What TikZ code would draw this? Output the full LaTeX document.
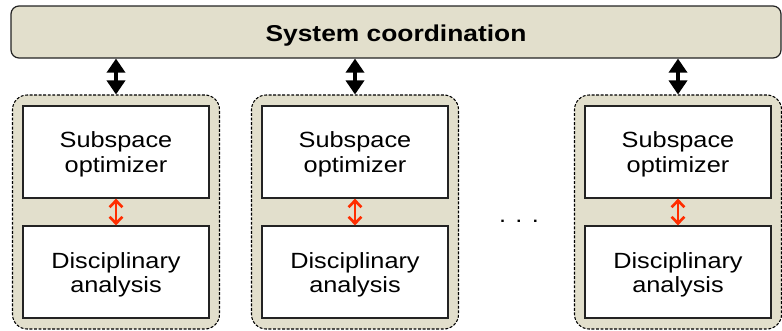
\documentclass[tikz,border=0pt]{standalone}
\usepackage{fontspec}
\setmainfont{Liberation Sans}
\usetikzlibrary{arrows.meta}
\definecolor{beige}{RGB}{226,223,204}
\definecolor{redarr}{RGB}{255,45,0}
\definecolor{edgecol}{RGB}{35,35,35}
\newcommand{\hs}[2][-2.2pt]{\raisebox{#1}[\height][\depth]{\scalebox{1.15}[1]{\begin{tabular}{@{}c@{}}#2\end{tabular}}}}
\tikzset{
  topbox/.style={draw=edgecol, line width=0.9pt, fill=beige, rounded corners=6pt,
    minimum width=577.5pt, minimum height=39pt, inner sep=0pt,
    font=\fontsize{17.2}{19}\selectfont\bfseries},
  groupbox/.style={draw=black, line width=0.8pt, fill=beige, rounded corners=11pt,
    dash pattern=on 2.2pt off 1.2pt, minimum width=155.25pt, minimum height=175.5pt, inner sep=0pt},
  innerbox/.style={draw=edgecol, line width=0.9pt, fill=white,
    minimum width=139.5pt, minimum height=69pt, inner sep=0pt,
    font=\fontsize{16.5}{18.3}\selectfont},
  bigarrow/.style={line width=2.6pt, {Triangle[width=13.5pt,length=10.5pt]}-{Triangle[width=13.5pt,length=10.5pt]}},
  redarrow/.style={draw=redarr, line width=2pt, {Straight Barb[width=9.5pt,length=5pt]}-{Straight Barb[width=9.5pt,length=5pt]}}
}
\begin{document}
\begin{tikzpicture}[x=0.75pt,y=-0.75pt]
\useasboundingbox (0,0) rectangle (782,330);
\node[topbox] (sys) at (396,32) {\hs[-3.5pt]{System coordination}};
\foreach \n/\cx in {1/116,2/355,3/678}{
  \node[groupbox] (g\n) at (\cx,212) {};
  \node[innerbox] (s\n) at (\cx,152) {\hs{Subspace\\optimizer}};
  \node[innerbox] (d\n) at (\cx,272) {\hs[-2.6pt]{Disciplinary\\analysis}};
  \draw[bigarrow] (g\n.north |- sys.south) -- (g\n.north);
  \draw[redarrow] (s\n.south) -- (d\n.north);
}
\node[anchor=base, inner sep=0pt, font=\fontsize{16.5}{18.3}\selectfont] (dots) at (519,222.5) {\scalebox{1.15}[1]{. . .}};
\end{tikzpicture}
\end{document}
